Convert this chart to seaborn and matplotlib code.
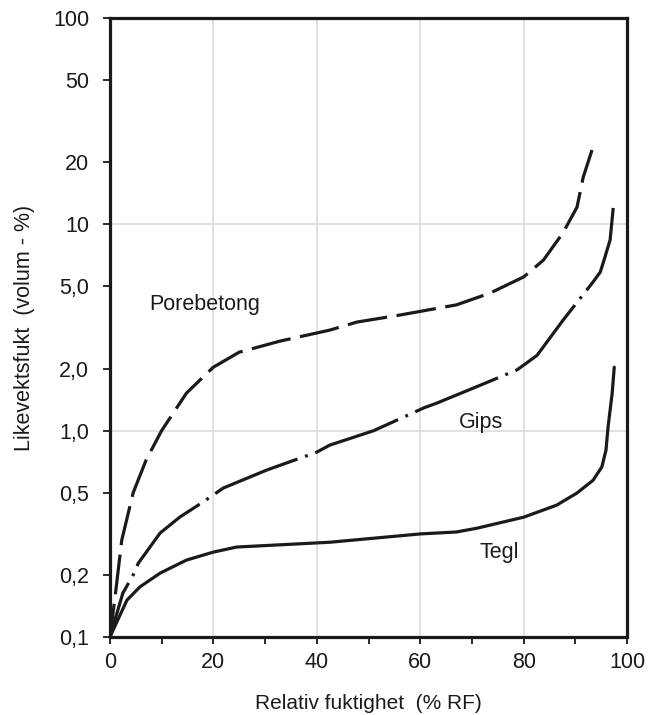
import numpy as np
import pandas as pd
import seaborn as sns
import matplotlib.pyplot as plt
from matplotlib.ticker import FixedLocator, FixedFormatter, NullLocator

# Porebetong (aerated concrete)
pore_rf = [0, 1, 2.3, 4.5, 7, 10, 14.8, 20, 25, 33, 42.5, 47.8, 56, 67, 73.5, 80, 83.8, 87.6, 90.3, 91.5, 93.2]
pore_val = [0.1, 0.156, 0.295, 0.5, 0.72, 1.0, 1.52, 2.03, 2.4, 2.72, 3.07, 3.36, 3.63, 4.07, 4.64, 5.56, 6.7,
            9.1, 12.1, 16.9, 22.9]

# Gips (gypsum)
gips_rf = [0, 2.5, 4.5, 5.5, 9.7, 13.5, 18, 20, 21.9, 30.3, 40, 42.5, 51, 58.6, 60.7, 63.2, 71.6, 78.7,
           80.8, 82.6, 87.6, 93.4, 94.8, 95.7, 96.7, 97.3]
gips_val = [0.1, 0.163, 0.2, 0.228, 0.319, 0.381, 0.451, 0.488, 0.527, 0.644, 0.787, 0.851, 1.0, 1.22, 1.29,
            1.36, 1.66, 1.97, 2.15, 2.32, 3.43, 5.25, 5.87, 6.93, 8.4, 12.0]

# Tegl (brick)
tegl_rf = [0, 3.3, 5.8, 9.7, 14.8, 20, 24.5, 42.5, 60, 67, 71, 80, 86.4, 90.3, 93.4, 95.1, 95.9, 96.3, 97.1, 97.5]
tegl_val = [0.1, 0.151, 0.175, 0.204, 0.236, 0.258, 0.273, 0.288, 0.316, 0.323, 0.337, 0.381, 0.436, 0.499,
            0.575, 0.667, 0.805, 1.04, 1.52, 2.03]

y_ticks = [0.1, 0.2, 0.5, 1, 2, 5, 10, 20, 50, 100]
y_labels = ['0,1', '0,2', '0,5', '1,0', '2,0', '5,0', '10', '20', '50', '100']
x_ticks = [0, 20, 40, 60, 80, 100]

sns.set_style('white')
plt.rcParams['font.family'] = ['Liberation Sans', 'DejaVu Sans']

fig = plt.figure(figsize=(6.54, 7.15), dpi=100)
ax = fig.add_axes([0.168, 0.109, 0.791, 0.866])

ink = '#1a1a1a'
fs = 15.5
lw = 2.3
sns.lineplot(x=pore_rf, y=pore_val, ax=ax, color=ink, lw=lw, linestyle=(2, (12.5, 3)), sort=False)
sns.lineplot(x=gips_rf, y=gips_val, ax=ax, color=ink, lw=lw, linestyle=(10, (28, 2.5, 0.9, 2.5)), sort=False)
sns.lineplot(x=tegl_rf, y=tegl_val, ax=ax, color=ink, lw=lw, linestyle='-', sort=False)

ax.set_yscale('log')
ax.set_xlim(0, 100)
ax.set_ylim(0.1, 100)

# light grid lines
for gx in [20, 40, 60, 80]:
    ax.axvline(gx, color='#dcdcdc', lw=1.2, zorder=0)
for gy in [1, 10]:
    ax.axhline(gy, color='#dcdcdc', lw=1.2, zorder=0)

ax.yaxis.set_major_locator(FixedLocator(y_ticks))
ax.yaxis.set_major_formatter(FixedFormatter(y_labels))
ax.yaxis.set_minor_locator(NullLocator())
ax.set_xticks(x_ticks)
ax.set_xticks(range(0, 101, 10), minor=True)
ax.tick_params(axis='both', which='both', direction='out', color=ink, width=1.3, length=5,
               labelsize=fs, labelcolor=ink)
ax.tick_params(axis='x', which='both', bottom=True, pad=6)
ax.tick_params(axis='y', which='both', left=True, pad=10)

for sp in ax.spines.values():
    sp.set_linewidth(2.3)
    sp.set_color(ink)

ax.set_xlabel('Relativ fuktighet  (% RF)', fontsize=15, color=ink, labelpad=15)
ax.set_ylabel('Likevektsfukt  (volum - %)', fontsize=fs, color=ink, labelpad=13)

ax.text(7.7, 4.07, 'Porebetong', fontsize=fs, va='center', ha='left', color=ink)
ax.text(67.5, 1.09, 'Gips', fontsize=fs, va='center', ha='left', color=ink)
ax.text(71.5, 0.258, 'Tegl', fontsize=fs, va='center', ha='left', color=ink)

fig.savefig('out.png', dpi=100)
